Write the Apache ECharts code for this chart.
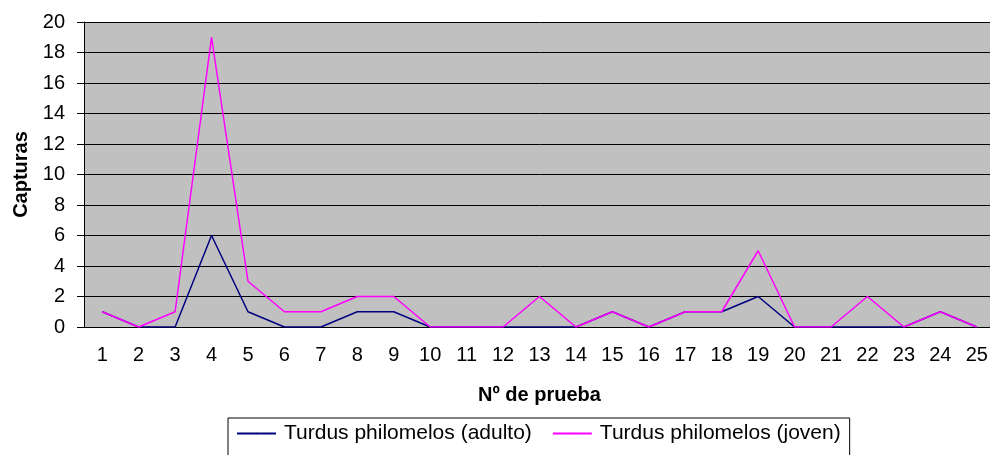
<!DOCTYPE html>
<html>
<head>
<meta charset="utf-8">
<script src="https://cdn.jsdelivr.net/npm/echarts@6/dist/echarts.min.js"></script>
<style>
  html, body { margin: 0; padding: 0; background: #fff; overflow: hidden; }
  /* the plot area runs past the right edge in the original, so the canvas is a bit wider than the window */
  #chart { width: 995px; height: 455px; }
</style>
</head>
<body>
<div id="chart"></div>
<script>
const pruebas = ['1', '2', '3', '4', '5', '6', '7', '8', '9', '10', '11', '12', '13',
  '14', '15', '16', '17', '18', '19', '20', '21', '22', '23', '24', '25']
const adulto = [1, 0, 0, 6, 1, 0, 0, 1, 1, 0, 0, 0, 0, 0, 1, 0, 1, 1, 2, 0, 0, 0, 0, 1, 0]
const joven = [1, 0, 1, 19, 3, 1, 1, 2, 2, 0, 0, 0, 2, 0, 1, 0, 1, 1, 5, 0, 0, 2, 0, 1, 0]

const font = 'Liberation Sans, Arial, sans-serif'
const myChart = echarts.init(document.getElementById('chart'))

myChart.setOption({
  animation: false,
  textStyle: { fontFamily: font, color: '#000' },
  grid: {
    left: 84,
    top: 22,
    right: 0,
    bottom: 128,
    show: true,
    backgroundColor: '#c0c0c0',
    borderWidth: 0
  },
  legend: {
    left: 228,
    top: 418,
    padding: [5, 9, 14, 8],
    itemGap: 20,
    itemWidth: 39,
    itemHeight: 2,
    borderColor: '#000',
    borderWidth: 1,
    textStyle: { fontFamily: font, fontSize: 21, color: '#000', padding: [0, 0, 0, 3] },
    data: ['Turdus philomelos (adulto)', 'Turdus philomelos (joven)']
  },
  xAxis: {
    type: 'category',
    data: pruebas,
    boundaryGap: true,
    name: 'Nº de prueba',
    nameLocation: 'middle',
    nameGap: 58,
    nameTextStyle: { fontFamily: font, fontSize: 20, fontWeight: 'bold', color: '#000' },
    axisLine: { lineStyle: { color: '#000', width: 1 } },
    axisTick: { interval: 0, length: 6, lineStyle: { color: '#000' } },
    axisLabel: { interval: 0, margin: 18, fontFamily: font, fontSize: 20, color: '#000' },
    splitLine: { show: false }
  },
  yAxis: {
    type: 'value',
    min: 0,
    max: 20,
    interval: 2,
    name: 'Capturas',
    nameLocation: 'middle',
    nameGap: 53,
    nameTextStyle: { fontFamily: font, fontSize: 20, fontWeight: 'bold', color: '#000' },
    axisLine: { show: true, lineStyle: { color: '#000', width: 1 } },
    axisTick: { show: true, length: 7, lineStyle: { color: '#000' } },
    axisLabel: { margin: 19, fontFamily: font, fontSize: 20, color: '#000' },
    splitLine: { show: true, lineStyle: { color: '#000', width: 1 } }
  },
  series: [
    {
      name: 'Turdus philomelos (adulto)',
      type: 'line',
      data: adulto,
      symbol: 'none',
      color: '#000080',
      lineStyle: { color: '#000080', width: 1.5 }
    },
    {
      name: 'Turdus philomelos (joven)',
      type: 'line',
      data: joven,
      symbol: 'none',
      color: '#ff00ff',
      lineStyle: { color: '#ff00ff', width: 1.5 }
    }
  ]
})
</script>
</body>
</html>
